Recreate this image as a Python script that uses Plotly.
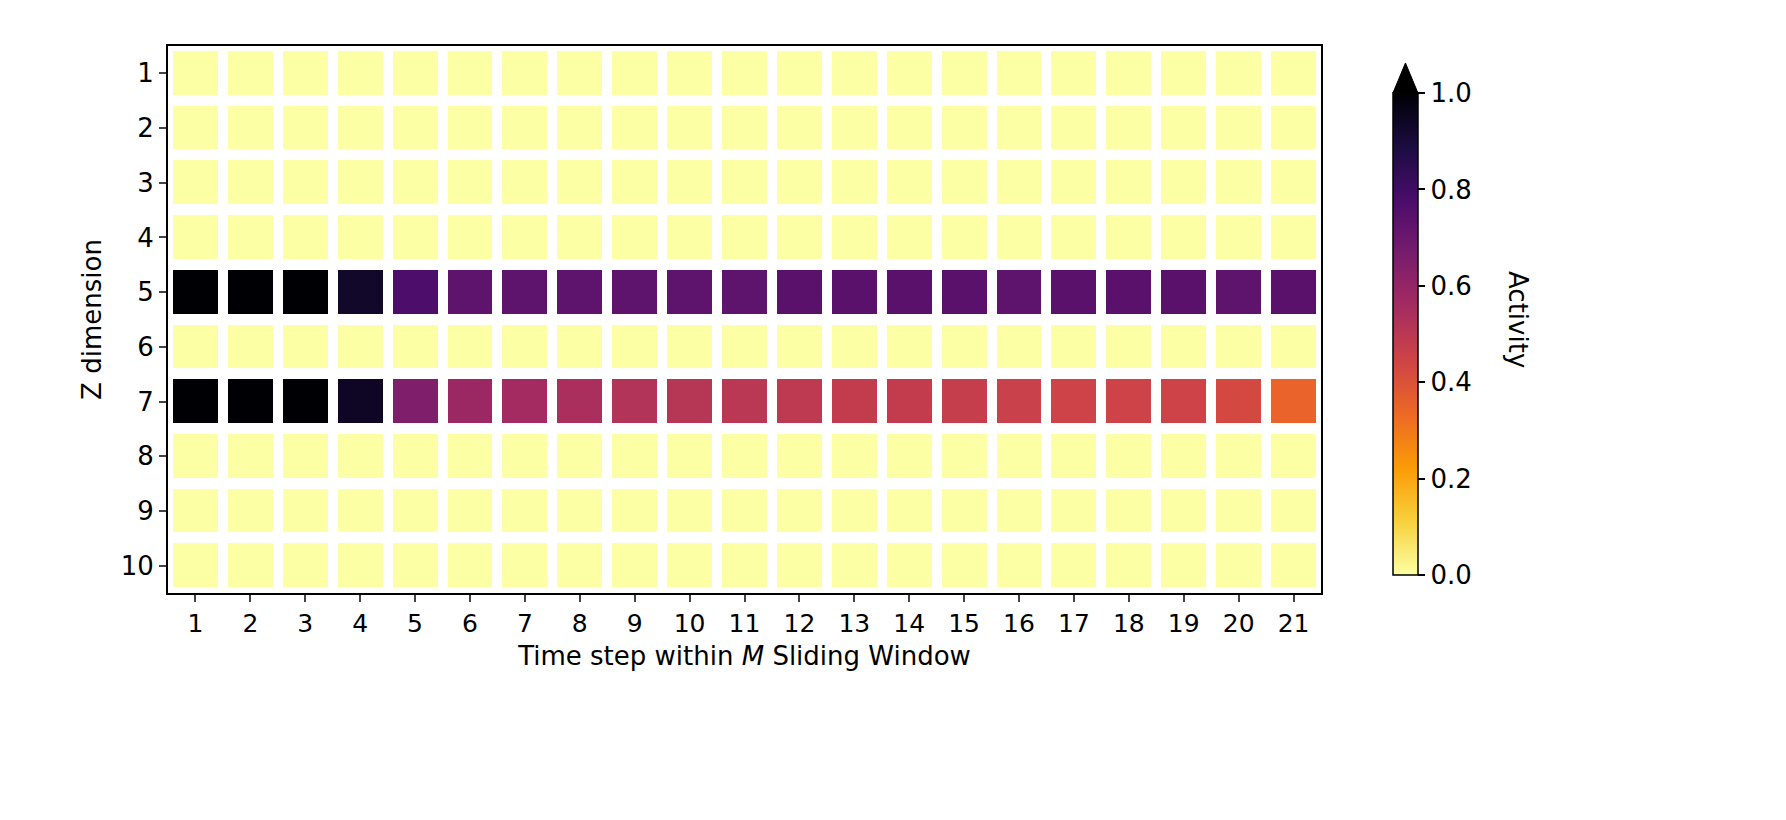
import plotly.graph_objects as go

time_steps = list(range(1, 22))
z_dims = list(range(1, 11))
row5 = [1.0, 1.0, 1.0, 0.93, 0.77, 0.73, 0.73, 0.73, 0.73, 0.73, 0.73, 0.74, 0.74, 0.74, 0.74, 0.73, 0.74, 0.74, 0.74, 0.73, 0.74]
row7 = [1.0, 1.0, 1.0, 0.94, 0.65, 0.58, 0.56, 0.54, 0.52, 0.51, 0.50, 0.49, 0.48, 0.48, 0.47, 0.46, 0.45, 0.45, 0.45, 0.43, 0.35]

z = []
for d in z_dims:
    if d == 5:
        z.append(row5)
    elif d == 7:
        z.append(row7)
    else:
        z.append([0.0] * len(time_steps))

font = "DejaVu Sans"
fig = go.Figure(go.Heatmap(
    x=time_steps, y=z_dims, z=z, zmin=0, zmax=1,
    colorscale="Inferno_r", xgap=10, ygap=11,
    colorbar=dict(x=1.0624, xanchor="left", y=0.4735, yanchor="middle", len=0.881,
                  xpad=0, ypad=0,
                  thickness=25, outlinecolor="black", outlinewidth=1.5,
                  tickvals=[0, 0.2, 0.4, 0.6, 0.8, 1.0],
                  ticktext=["0.0", "0.2", "0.4", "0.6", "0.8", "1.0"],
                  ticks="outside", ticklen=7, tickwidth=1.5, tickcolor="black",
                  tickfont=dict(family=font, size=26, color="black")),
))
fig.update_xaxes(tickvals=time_steps, ticks="outside", ticklen=7, tickwidth=1.5, showline=True,
                 linecolor="black", linewidth=2, mirror=True, range=[0.5, 21.5],
                 tickfont=dict(family=font, size=25, color="black"),
                 title=dict(text="Time step within <i>M</i> Sliding Window",
                            font=dict(family=font, size=26, color="black"), standoff=10))
fig.update_yaxes(tickvals=z_dims, ticks="outside", ticklen=7, tickwidth=1.5, showline=True,
                 linecolor="black", linewidth=2, mirror=True, range=[10.5, 0.5],
                 tickfont=dict(family=font, size=26, color="black"),
                 title=dict(text="Z dimension", font=dict(family=font, size=26, color="black"), standoff=12))
fig.add_annotation(text="Activity", x=1.186, y=0.50, xref="paper", yref="paper", showarrow=False,
                   textangle=90, font=dict(family=font, size=26, color="black"))
# colorbar extension triangle
fig.add_shape(type="path", xref="paper", yref="paper",
              path="M 1.0624 0.914 L 1.0841 0.914 L 1.07325 0.969 Z",
              fillcolor="black", line=dict(color="black", width=1))
fig.update_layout(width=1786, height=820, margin=dict(l=160, r=473, t=38, b=235),
                  plot_bgcolor="white", paper_bgcolor="white")
fig.write_html("out.html")
